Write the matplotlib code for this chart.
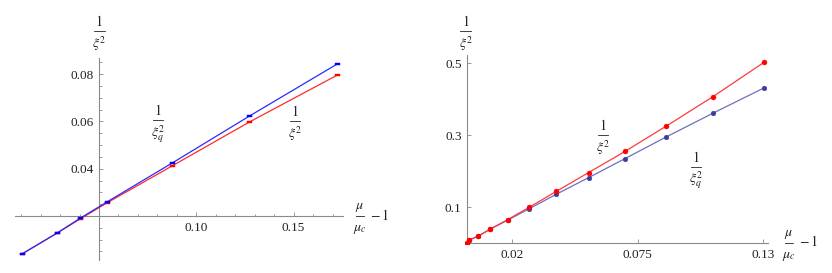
import matplotlib
matplotlib.use('Agg')
import matplotlib.pyplot as plt
from matplotlib.path import Path
from matplotlib.lines import Line2D

plt.rcParams['font.family'] = ['Liberation Serif', 'DejaVu Serif']
plt.rcParams['mathtext.fontset'] = 'stix'

# ---------------- data ----------------
# left panel
left_x = [0.0103, 0.0283, 0.0402, 0.0540, 0.0874, 0.1272, 0.1725]
left_inv_xi2 = [0.0039, 0.0127, 0.0187, 0.0255, 0.0411, 0.0597, 0.0796]     # red
left_inv_xiq2 = [0.0039, 0.0127, 0.0190, 0.0259, 0.0423, 0.0622, 0.0843]    # blue
left_xticks = [0.10, 0.15]
left_xticklabels = ['0.10', '0.15']
left_yticks = [0.04, 0.06, 0.08]
left_yticklabels = ['0.04', '0.06', '0.08']

# right panel
right_x = [0.0, 0.0013, 0.0050, 0.0104, 0.0181, 0.0276, 0.0394, 0.0535,
           0.0695, 0.0875, 0.1080, 0.1303]
right_inv_xi2 = [0.002, 0.010, 0.020, 0.040, 0.0666, 0.101, 0.145, 0.197,
                 0.256, 0.326, 0.408, 0.503]                               # red
right_inv_xiq2 = [0.002, 0.010, 0.020, 0.040, 0.065, 0.097, 0.137, 0.183,
                  0.236, 0.296, 0.362, 0.432]                              # blue
right_xticks = [0.02, 0.075, 0.13]
right_xticklabels = ['0.02', '0.075', '0.13']
right_yticks = [0.1, 0.3, 0.5]
right_yticklabels = ['0.1', '0.3', '0.5']

# ---------------- figure ----------------
W, H = 832, 273
fig = plt.figure(figsize=(W / 100, H / 100), dpi=100)


def px_axes(l, r, t, b):
    return fig.add_axes([l / W, 1 - b / H, (r - l) / W, (b - t) / H])


def ftext(x, y, s, **kw):
    return fig.text(x / W, 1 - y / H, s, **kw)


AXC = '#8a8a8a'
TXT = '#222222'
FS = 9.5


def style(ax, xo, yo):
    for s in ['top', 'right']:
        ax.spines[s].set_visible(False)
    ax.spines['left'].set_position(('data', xo))
    ax.spines['bottom'].set_position(('data', yo))
    for s in ['left', 'bottom']:
        ax.spines[s].set_color(AXC)
        ax.spines[s].set_linewidth(0.8)
    ax.patch.set_alpha(0)
    ax.tick_params(which='both', direction='in', color=AXC, width=0.6,
                   labelsize=FS, labelcolor=TXT)
    ax.tick_params(which='major', length=3.2)
    ax.tick_params(which='minor', length=1.8)
    ax.tick_params(axis='x', which='major', pad=4.0)
    ax.tick_params(axis='y', which='major', pad=3.5)


rect = Path([(-1, -0.45), (1, -0.45), (1, 0.45), (-1, 0.45), (-1, -0.45)],
            [Path.MOVETO, Path.LINETO, Path.LINETO, Path.LINETO, Path.CLOSEPOLY])

# ---- left panel ----
ax1 = px_axes(15, 343, 58, 260)
ax1.set_xlim(0.00683, 0.17539)
ax1.set_ylim(0.0014, 0.0868)
style(ax1, 0.05, 0.02)
ax1.plot(left_x, left_inv_xi2, color='#ff2a2a', lw=0.9, marker=rect,
         ms=3.6, mfc='#ff0000', mec='#ff0000', mew=0.3, zorder=3)
ax1.plot(left_x, left_inv_xiq2, color='#2a2aff', lw=0.9, marker=rect,
         ms=3.6, mfc='#0000ff', mec='#0000ff', mew=0.3, zorder=4)
ax1.set_xticks(left_xticks)
ax1.set_xticklabels(left_xticklabels)
ax1.set_xticks([v / 100 for v in range(1, 18) if v not in (5, 10, 15)], minor=True)
ax1.set_yticks(left_yticks)
ax1.set_yticklabels(left_yticklabels)
ax1.set_yticks([v / 1000 for v in range(5, 90, 5) if v not in (20, 40, 60, 80)],
               minor=True)

# ---- right panel ----
ax2 = px_axes(465, 768, 55, 244)
ax2.set_xlim(-0.00066, 0.1321)
ax2.set_ylim(-0.0014, 0.5236)
style(ax2, 0.0, 0.0)
ax2.plot(right_x, right_inv_xiq2, color='#6e6ec4', lw=0.9, marker='o',
         ms=3.4, mfc='#3d3d99', mec='#3d3d99', mew=0.3, zorder=3)
ax2.plot(right_x, right_inv_xi2, color='#ff3a3a', lw=0.9, marker='o',
         ms=3.6, mfc='#ff0000', mec='#ff0000', mew=0.3, zorder=4)
ax2.set_xticks(right_xticks)
ax2.set_xticklabels(right_xticklabels)
ax2.set_yticks(right_yticks)
ax2.set_yticklabels(right_yticklabels)

# ---- fraction labels (Mathematica-style, roomy spacing) ----
LFS = 10


def frac(cx, bar_y, num, den, width, gap_num=5.0, gap_den=3.5):
    ftext(cx, bar_y - gap_num, num, fontsize=LFS, ha='center', va='baseline',
          color=TXT)
    ftext(cx, bar_y + gap_den, den, fontsize=LFS, ha='center', va='top',
          color=TXT)
    fig.add_artist(Line2D([(cx - width / 2) / W, (cx + width / 2) / W],
                          [1 - bar_y / H, 1 - bar_y / H],
                          transform=fig.transFigure, color=TXT, lw=0.6))


def xlabel(x0, bar_y):
    frac(x0 + 4, bar_y, r'$\mu$', r'$\mu_c$', 8, gap_num=7.0, gap_den=7.0)
    ftext(x0 + 14.5, bar_y + 3.5, r'$-\,1$', fontsize=LFS, ha='left',
          va='baseline', color=TXT)


# axis labels
frac(99, 31, r'$1$', r'$\xi^2$', 11)
frac(466, 31, r'$1$', r'$\xi^2$', 11)
xlabel(356, 216)
xlabel(784.5, 243)

# curve labels
frac(157.7, 120, r'$1$', r'$\xi_q^2$', 10)
frac(295, 121, r'$1$', r'$\xi^2$', 10)
frac(603, 135, r'$1$', r'$\xi^2$', 10)
frac(696, 166.5, r'$1$', r'$\xi_q^2$', 10)

fig.savefig('out.png', dpi=100)
